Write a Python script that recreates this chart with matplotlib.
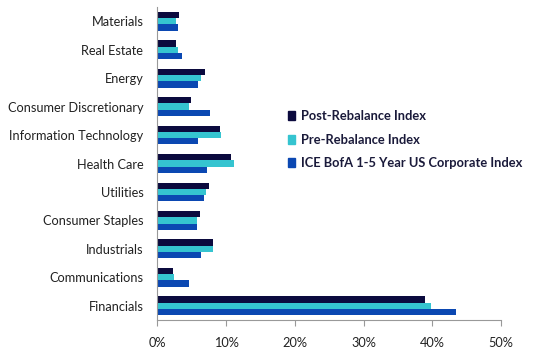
import numpy as np
import matplotlib.pyplot as plt
from matplotlib.patches import Patch

plt.rcParams['font.family'] = ['Lato', 'DejaVu Sans']

sectors = ['Materials', 'Real Estate', 'Energy', 'Consumer Discretionary',
           'Information Technology', 'Health Care', 'Utilities',
           'Consumer Staples', 'Industrials', 'Communications', 'Financials']
post = [3.1, 2.7, 6.9, 4.9, 9.1, 10.7, 7.5, 6.2, 8.1, 2.3, 38.9]
pre = [2.7, 3.0, 6.4, 4.6, 9.3, 11.1, 7.1, 5.8, 8.1, 2.4, 39.8]
ice = [3.0, 3.6, 6.0, 7.7, 5.9, 7.2, 6.8, 5.8, 6.4, 4.6, 43.4]
names = ['Post-Rebalance Index', 'Pre-Rebalance Index',
         'ICE BofA 1-5 Year US Corporate Index']
colors = ['#0b0a3e', '#35c4d0', '#0b48b2']

fig = plt.figure(figsize=(5.33, 3.52), dpi=100)
ax = fig.add_axes([0.295, 0.091, 0.645, 0.889])

y = np.arange(len(sectors))
h = 0.22
for i, (vals, c) in enumerate(zip([post, pre, ice], colors)):
    ax.barh(y + (i - 1) * h, vals, height=h, color=c)

ax.set_ylim(len(sectors) - 0.5, -0.5)
ax.set_yticks(y)
ax.set_yticklabels(sectors, fontsize=9.2, color='#222222')
ax.tick_params(axis='y', length=0, pad=10)
ax.set_xlim(0, 50)
ax.set_xticks(range(0, 51, 10))
ax.set_xticklabels([f'{v}%' for v in range(0, 51, 10)], fontsize=9.2, color='#222222')
ax.tick_params(axis='x', length=4, color='#999999', pad=8)

for s in ['top', 'right']:
    ax.spines[s].set_visible(False)
ax.spines['left'].set_color('#999999')
ax.spines['bottom'].set_color('#999999')

handles = [Patch(color=c) for c in colors]
leg = fig.legend(handles, names, loc='upper left', bbox_to_anchor=(0.518, 0.72),
                 frameon=False, handlelength=0.6, handleheight=0.7,
                 handletextpad=0.45, labelspacing=0.9,
                 prop={'weight': 'bold', 'size': 9.3})
for t in leg.get_texts():
    t.set_color('#1a1a3a')

fig.savefig('out.png', dpi=100)
